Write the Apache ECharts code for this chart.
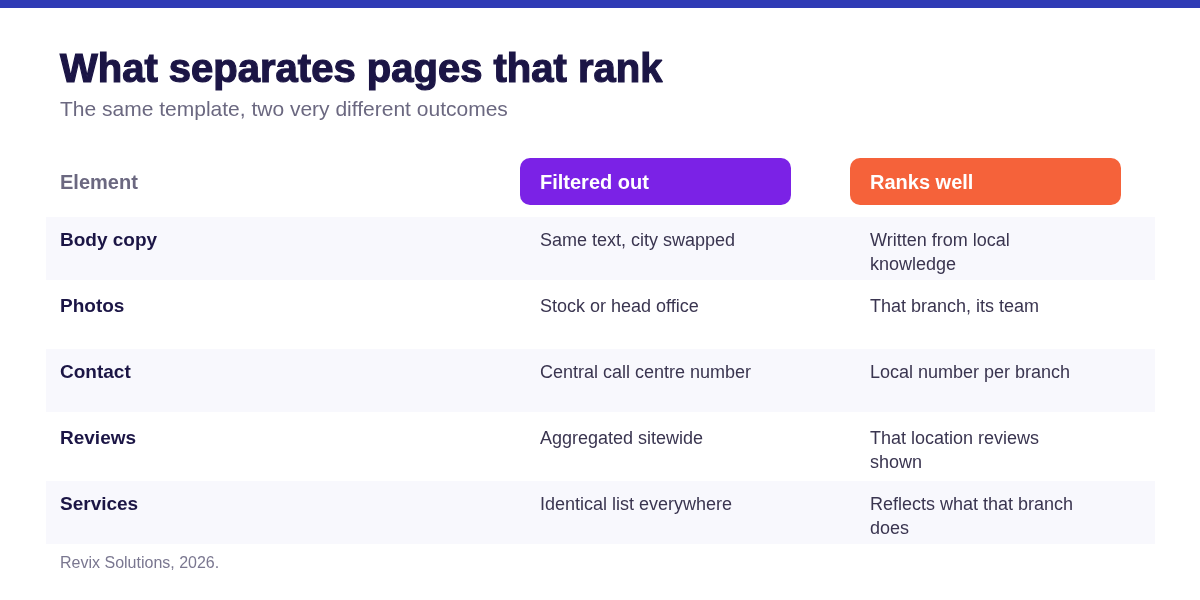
<!DOCTYPE html>
<html>
<head>
<meta charset="utf-8">
<script src="https://cdn.jsdelivr.net/npm/echarts@6/dist/echarts.min.js"></script>
<style>html,body{margin:0;padding:0;background:#fff}#main{width:1200px;height:600px}</style>
</head>
<body>
<div id="main"></div>
<script>
var titleText = 'What separates pages that rank';
var subtitleText = 'The same template, two very different outcomes';
var headers = ['Element', 'Filtered out', 'Ranks well'];
var elements = ['Body copy', 'Photos', 'Contact', 'Reviews', 'Services'];
var filteredOut = ['Same text, city swapped', 'Stock or head office', 'Central call centre number', 'Aggregated sitewide', 'Identical list everywhere'];
var ranksWell = ['Written from local knowledge', 'That branch, its team', 'Local number per branch', 'That location reviews shown', 'Reflects what that branch does'];
var sourceText = 'Revix Solutions, 2026.';

var chart = echarts.init(document.getElementById('main'));
var font = '"Liberation Sans", Arial, sans-serif';
var g = [];

// top bar
g.push({ type: 'rect', shape: { x: 0, y: 0, width: 1200, height: 8 }, style: { fill: '#2f3bb5' } });
g.push({ type: 'text', x: 60, y: 71, style: { text: titleText, fontSize: 40, fontWeight: 900, fontFamily: font, fill: '#1b1545', verticalAlign: 'middle', stroke: '#1b1545', lineWidth: 1.2 } });
g.push({ type: 'text', x: 60, y: 110, style: { text: subtitleText, fontSize: 21, fontFamily: font, fill: '#6b6880', verticalAlign: 'middle' } });

// header row
g.push({ type: 'text', x: 60, y: 183, style: { text: headers[0], fontSize: 20, fontWeight: 'bold', fontFamily: font, fill: '#6b6880', verticalAlign: 'middle' } });
g.push({ type: 'rect', shape: { x: 520, y: 158, width: 271, height: 47, r: 10 }, style: { fill: '#7b22e6' } });
g.push({ type: 'rect', shape: { x: 850, y: 158, width: 271, height: 47, r: 10 }, style: { fill: '#f5623a' } });
g.push({ type: 'text', x: 540, y: 183, style: { text: headers[1], fontSize: 20, fontWeight: 'bold', fontFamily: font, fill: '#fff', verticalAlign: 'middle' } });
g.push({ type: 'text', x: 870, y: 183, style: { text: headers[2], fontSize: 20, fontWeight: 'bold', fontFamily: font, fill: '#fff', verticalAlign: 'middle' } });

// body rows
var rowTop = 217, rowH = 66;
elements.forEach(function (name, i) {
  var y = rowTop + i * rowH;
  if (i % 2 === 0) {
    g.push({ type: 'rect', shape: { x: 46, y: y, width: 1109, height: 63 }, style: { fill: '#f8f8fd' } });
  }
  g.push({ type: 'text', x: 60, y: y + 12, style: { text: name, fontSize: 19, fontWeight: 'bold', fontFamily: font, fill: '#1b1545', lineHeight: 24 } });
  g.push({ type: 'text', x: 540, y: y + 12, style: { text: filteredOut[i], fontSize: 18, fontFamily: font, fill: '#3a3550', width: 240, overflow: 'break', lineHeight: 24 } });
  g.push({ type: 'text', x: 870, y: y + 12, style: { text: ranksWell[i], fontSize: 18, fontFamily: font, fill: '#3a3550', width: 222, overflow: 'break', lineHeight: 24 } });
});

g.push({ type: 'text', x: 60, y: 564, style: { text: sourceText, fontSize: 16, fontFamily: font, fill: '#7a7790', verticalAlign: 'middle' } });

chart.setOption({ animation: false, graphic: { elements: g } });
</script>
</body>
</html>
